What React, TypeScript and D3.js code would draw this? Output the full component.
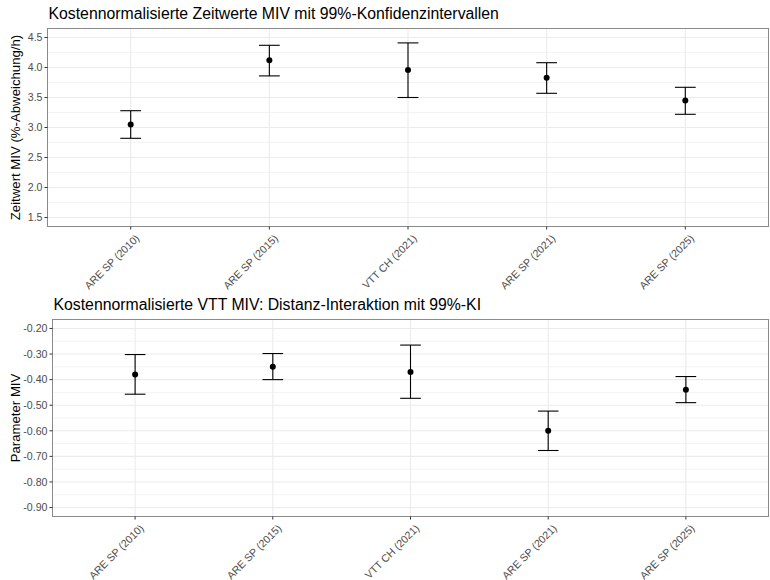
import React from "react";
import * as d3 from "d3";

// Study labels shared by both panels
const categories = ["ARE SP (2010)", "ARE SP (2015)", "VTT CH (2021)", "ARE SP (2021)", "ARE SP (2025)"];

// Panel 1: cost-normalised value of time (estimate with 99% CI)
const zeitwertEst = [3.05, 4.12, 3.96, 3.83, 3.45];
const zeitwertLo = [2.82, 3.86, 3.5, 3.57, 3.22];
const zeitwertHi = [3.28, 4.37, 4.41, 4.08, 3.67];
const zeitwertTicks = [1.5, 2.0, 2.5, 3.0, 3.5, 4.0, 4.5];

// Panel 2: distance interaction parameter (estimate with 99% CI)
const distEst = [-0.38, -0.35, -0.37, -0.6, -0.44];
const distLo = [-0.457, -0.4, -0.473, -0.677, -0.49];
const distHi = [-0.302, -0.298, -0.265, -0.523, -0.388];
const distTicks = [-0.9, -0.8, -0.7, -0.6, -0.5, -0.4, -0.3, -0.2];

const FONT = "'Liberation Sans', Arial, Helvetica, sans-serif";
const TICK_SIZE = 10.6;

type PanelProps = {
  title: string;
  yTitle: string;
  est: number[];
  lo: number[];
  hi: number[];
  ticks: number[];
  decimals: number;
  left: number;
  top: number;
  right: number;
  bottom: number;
  titleY: number;
};

function Panel(p: PanelProps) {
  const lo = p.ticks[0];
  const hi = p.ticks[p.ticks.length - 1];
  const pad = (hi - lo) * 0.05;
  const y = d3.scaleLinear().domain([lo - pad, hi + pad]).range([p.bottom, p.top]);
  const x = d3.scalePoint<string>().domain(categories).range([p.left, p.right]).padding(0.6);
  const step = x.step();
  const capHalf = step * 0.075;
  const minor = p.ticks.slice(1).map((t, i) => (t + p.ticks[i]) / 2);
  const fmt = d3.format(`.${p.decimals}f`);
  const fmtTick = (v: number) => fmt(v).replace("−", "-");

  return (
    <g>
      <text x={p.left + 1} y={p.titleY} fontSize={15.8} fill="#000" fontFamily={FONT}>
        {p.title}
      </text>
      {/* grid */}
      {minor.map((t) => (
        <line key={"mi" + t} x1={p.left} x2={p.right} y1={y(t)} y2={y(t)} stroke="#EBEBEB" strokeWidth={0.6} />
      ))}
      {p.ticks.map((t) => (
        <line key={"ma" + t} x1={p.left} x2={p.right} y1={y(t)} y2={y(t)} stroke="#EBEBEB" strokeWidth={1.1} />
      ))}
      {categories.map((c) => (
        <line key={"vx" + c} x1={x(c)} x2={x(c)} y1={p.top} y2={p.bottom} stroke="#EBEBEB" strokeWidth={1.1} />
      ))}
      {/* error bars and points */}
      {categories.map((c, i) => {
        const cx = x(c) as number;
        return (
          <g key={"eb" + c} stroke="#000" strokeWidth={1.1}>
            <line x1={cx} x2={cx} y1={y(p.lo[i])} y2={y(p.hi[i])} />
            <line x1={cx - capHalf} x2={cx + capHalf} y1={y(p.hi[i])} y2={y(p.hi[i])} />
            <line x1={cx - capHalf} x2={cx + capHalf} y1={y(p.lo[i])} y2={y(p.lo[i])} />
            <circle cx={cx} cy={y(p.est[i])} r={3} fill="#000" stroke="none" />
          </g>
        );
      })}
      {/* panel border */}
      <rect x={p.left} y={p.top} width={p.right - p.left} height={p.bottom - p.top} fill="none" stroke="#8a8a8a" strokeWidth={1} />
      {/* y axis */}
      {p.ticks.map((t) => (
        <g key={"yt" + t}>
          <line x1={p.left - 3} x2={p.left} y1={y(t)} y2={y(t)} stroke="#333" strokeWidth={1} />
          <text x={p.left - 5} y={y(t)} dy="0.35em" textAnchor="end" fontSize={TICK_SIZE} fill="#4D4D4D" fontFamily={FONT}>
            {fmtTick(t)}
          </text>
        </g>
      ))}
      <text
        transform={`translate(${15},${(p.top + p.bottom) / 2}) rotate(-90)`}
        textAnchor="middle"
        dy="0.35em"
        fontSize={13.2}
        fill="#000"
        fontFamily={FONT}
      >
        {p.yTitle}
      </text>
      {/* x axis */}
      {categories.map((c) => {
        const cx = x(c) as number;
        return (
          <g key={"xt" + c}>
            <line x1={cx} x2={cx} y1={p.bottom} y2={p.bottom + 3} stroke="#333" strokeWidth={1} />
            <text
              transform={`translate(${cx + 4},${p.bottom + 7}) rotate(-45)`}
              textAnchor="end"
              dy="0.72em"
              fontSize={TICK_SIZE}
              fill="#4D4D4D"
              fontFamily={FONT}
            >
              {c}
            </text>
          </g>
        );
      })}
    </g>
  );
}

export default function App() {
  return (
    <svg width={770} height={580} style={{ position: "absolute", left: 0, top: 0, background: "#fff" }}>
      <rect width={770} height={580} fill="#fff" />
      <Panel
        title="Kostennormalisierte Zeitwerte MIV mit 99%-Konfidenzintervallen"
        yTitle="Zeitwert MIV (%-Abweichung/h)"
        est={zeitwertEst}
        lo={zeitwertLo}
        hi={zeitwertHi}
        ticks={zeitwertTicks}
        decimals={1}
        left={47.5}
        top={28.5}
        right={768.5}
        bottom={226.5}
        titleY={19}
      />
      <Panel
        title="Kostennormalisierte VTT MIV: Distanz-Interaktion mit 99%-KI"
        yTitle="Parameter MIV"
        est={distEst}
        lo={distLo}
        hi={distHi}
        ticks={distTicks}
        decimals={2}
        left={52.5}
        top={319.5}
        right={768.5}
        bottom={516.5}
        titleY={310}
      />
    </svg>
  );
}
